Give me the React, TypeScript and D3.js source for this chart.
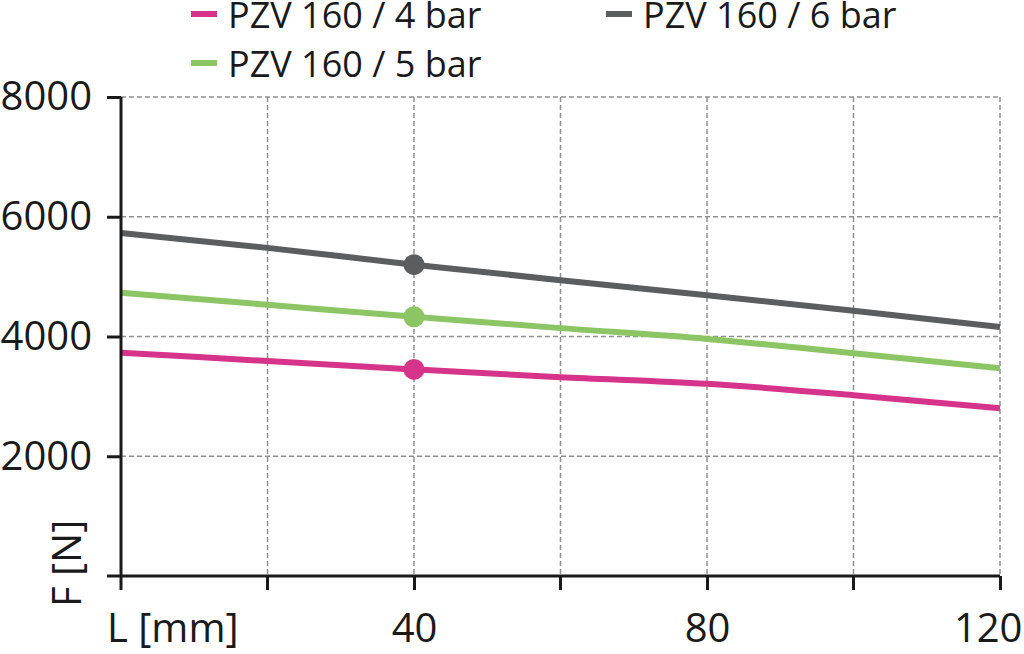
import React, { useEffect, useRef } from 'react';
import * as d3 from 'd3';

const lengths = [0, 20, 40, 60, 80, 100, 120];
const force4bar = [3730, 3590, 3450, 3320, 3210, 3020, 2800];
const force5bar = [4730, 4530, 4330, 4140, 3960, 3720, 3470];
const force6bar = [5730, 5480, 5200, 4940, 4690, 4430, 4160];
const seriesNames = ['PZV 160 / 4 bar', 'PZV 160 / 5 bar', 'PZV 160 / 6 bar'];
const seriesColors = ['#d6338a', '#8bc564', '#5b5d5f'];
const markerAt = 40;
const xTicks = [0, 20, 40, 60, 80, 100, 120];
const xLabels = [40, 80, 120];
const yTicks = [2000, 4000, 6000, 8000];

const FONT = '"Open Sans", sans-serif';

const App = () => {
    const ref = useRef(null);

    const graph = () => {
        const svgCanvas = d3.select(ref.current);
        svgCanvas.selectAll('*').remove();

        const margin = { top: 97, right: 24, bottom: 78, left: 121 };
        const width = 1024, height = 654;

        const x = d3.scaleLinear().domain([0, 120]).range([margin.left, width - margin.right]);
        const y = d3.scaleLinear().domain([0, 8000]).range([height - margin.bottom, margin.top]);

        const series = [force4bar, force5bar, force6bar].map((vals, i) => ({
            name: seriesNames[i],
            color: seriesColors[i],
            points: lengths.map((l, j) => ({ l, f: vals[j] })),
        }));

        // grid
        const grid = svgCanvas.append('g').attr('class', 'grid');
        grid.selectAll('line.v')
            .data(xTicks.filter(t => t > 0))
            .enter().append('line')
            .attr('x1', d => x(d)).attr('x2', d => x(d))
            .attr('y1', y(8000)).attr('y2', y(0))
            .attr('stroke', '#909090').attr('stroke-width', 1.5)
            .attr('stroke-dasharray', '5,3');
        grid.selectAll('line.h')
            .data(yTicks)
            .enter().append('line')
            .attr('x1', x(0)).attr('x2', x(120))
            .attr('y1', d => y(d)).attr('y2', d => y(d))
            .attr('stroke', '#909090').attr('stroke-width', 1.5)
            .attr('stroke-dasharray', '5,3');

        // lines
        const line = d3.line()
            .x(d => x(d.l))
            .y(d => y(d.f))
            .curve(d3.curveMonotoneX);

        svgCanvas.append('g').selectAll('path')
            .data(series)
            .enter().append('path')
            .attr('d', d => line(d.points))
            .attr('fill', 'none')
            .attr('stroke', d => d.color)
            .attr('stroke-width', 6);

        svgCanvas.append('g').selectAll('circle')
            .data(series)
            .enter().append('circle')
            .attr('cx', x(markerAt))
            .attr('cy', d => y(d.points.find(p => p.l === markerAt).f))
            .attr('r', 10.5)
            .attr('fill', d => d.color);

        // axes
        const yAxis = svgCanvas.append('g')
            .attr('transform', `translate(${margin.left},0)`)
            .call(d3.axisLeft(y).tickValues(yTicks).tickSize(14).tickPadding(15).tickFormat(d3.format('d')));
        yAxis.select('.domain').remove();
        yAxis.append('line')
            .attr('x1', 0).attr('x2', 0)
            .attr('y1', y(8000)).attr('y2', y(0))
            .attr('stroke', '#1a1a1a').attr('stroke-width', 3);

        const xAxis = svgCanvas.append('g')
            .attr('transform', `translate(0,${y(0)})`)
            .call(d3.axisBottom(x).tickValues(xLabels).tickSize(14).tickPadding(24)
                .tickFormat(d => String(d)));
        xAxis.select('.domain').remove();
        // unlabelled minor ticks
        xAxis.selectAll('line.minor')
            .data(xTicks.filter(t => !xLabels.includes(t)))
            .enter().append('line')
            .attr('class', 'minor')
            .attr('x1', d => x(d)).attr('x2', d => x(d))
            .attr('y1', 0).attr('y2', 14)
            .attr('stroke', '#1a1a1a').attr('stroke-width', 3);
        xAxis.append('line')
            .attr('x1', x(0) - 14).attr('x2', x(120))
            .attr('y1', 0).attr('y2', 0)
            .attr('stroke', '#1a1a1a').attr('stroke-width', 3);
        // last label sits against the right edge
        xAxis.selectAll('.tick').filter(d => d === 120).select('text')
            .attr('text-anchor', 'end').attr('x', 22);

        svgCanvas.selectAll('.tick line').attr('stroke', '#1a1a1a').attr('stroke-width', 3);
        svgCanvas.selectAll('.tick text')
            .style('font-family', FONT).style('font-size', '40px').style('fill', '#1a1a1a');

        // axis titles
        svgCanvas.append('text')
            .attr('x', 107).attr('y', 642)
            .text('L [mm]')
            .style('font-family', FONT).style('font-size', '40px').style('fill', '#1a1a1a');
        svgCanvas.append('text')
            .attr('transform', 'translate(81,607) rotate(-90)')
            .text('F [N]')
            .style('font-family', FONT).style('font-size', '40px').style('fill', '#1a1a1a');

        // legend
        const legendPos = [[191, 14], [191, 63], [606, 14]];
        const legend = svgCanvas.append('g').selectAll('g')
            .data(series)
            .enter().append('g')
            .attr('transform', (d, i) => `translate(${legendPos[i][0]},${legendPos[i][1]})`);
        legend.append('rect')
            .attr('x', 0).attr('y', -3).attr('width', 26).attr('height', 6)
            .attr('fill', d => d.color);
        legend.append('text')
            .attr('x', 37).attr('y', 14)
            .text(d => d.name)
            .style('font-family', FONT).style('font-size', '36px').style('fill', '#1a1a1a');
    };

    useEffect(() => graph());

    return (
        <svg ref={ref} width="1024" height="654"
            style={{ position: 'absolute', left: 0, top: 0, background: '#fff' }}></svg>
    );
};

export default App;
